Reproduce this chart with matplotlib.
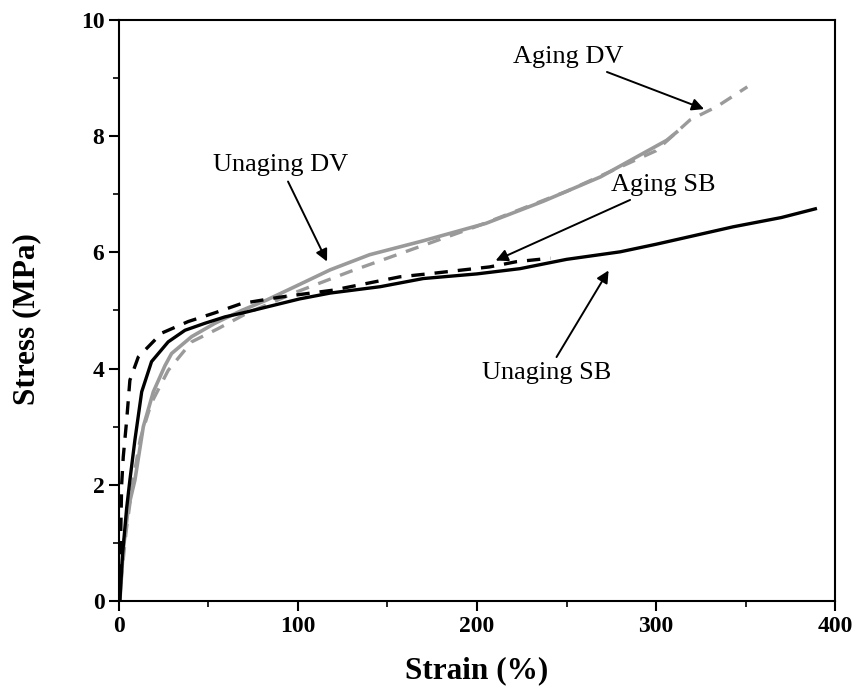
import matplotlib.pyplot as plt
from matplotlib.ticker import MultipleLocator

plt.rcParams['font.family'] = ['Liberation Serif', 'DejaVu Serif']

# Unaging SB (black solid)
usb_x = [0.5, 2, 4.3, 6.1, 8.9, 12.7, 18.2, 27.5, 36.9, 48, 59.2, 69.4, 82.5, 101, 118,
         146, 170, 200, 224, 250, 280, 300, 343, 370, 389]
usb_y = [0.0, 0.8, 1.6, 2.08, 2.77, 3.6, 4.12, 4.46, 4.66, 4.78, 4.89, 4.96, 5.06, 5.2, 5.3,
         5.41, 5.55, 5.63, 5.72, 5.88, 6.01, 6.14, 6.44, 6.6, 6.75]

# Aging SB (black dashed)
asb_x = [0.3, 1.5, 2.4, 4.3, 6.1, 10.8, 23.8, 38.7, 53.6, 68.5, 90, 119.6, 157, 175.4,
         207, 222, 241]
asb_y = [0.0, 2.0, 2.48, 3.11, 3.8, 4.2, 4.61, 4.81, 4.96, 5.12, 5.23, 5.35, 5.58, 5.64,
         5.75, 5.84, 5.9]

# Unaging DV (gray solid)
udv_x = [0.5, 2.4, 5.2, 8.9, 13.6, 19.2, 25.7, 29.4, 40.6, 53.6, 68.5, 82.5, 101, 118,
         140, 170, 205, 237, 269, 306, 311.5]
udv_y = [0.0, 0.88, 1.6, 2.08, 3.0, 3.6, 4.05, 4.26, 4.55, 4.78, 5.0, 5.18, 5.45, 5.7,
         5.96, 6.2, 6.5, 6.88, 7.3, 7.93, 8.07]

# Aging DV (gray dashed)
adv_x = [1, 4, 8, 12, 18, 27.5, 40.6, 55.5, 71.3, 99.3, 129, 162.6, 200, 250, 300, 319,
         334, 351]
adv_y = [0.3, 1.2, 2.1, 2.8, 3.4, 3.97, 4.46, 4.69, 4.95, 5.32, 5.67, 6.04, 6.45, 7.05,
         7.75, 8.28, 8.51, 8.85]

fig = plt.figure(figsize=(8.54, 6.88), dpi=100)
ax = fig.add_axes([0.1393, 0.1265, 0.8385, 0.8444])

gray = '#9a9a9a'
ax.plot(udv_x, udv_y, color=gray, lw=2.6)
ax.plot(adv_x, adv_y, color=gray, lw=2.4, ls=(0, (4, 3)))
ax.plot(usb_x, usb_y, color='black', lw=2.4)
ax.plot(asb_x, asb_y, color='black', lw=2.4, ls=(0, (4, 3)))

arrow = dict(arrowstyle='-|>', color='black', lw=1.4, mutation_scale=18)
tfs = 19
ax.annotate('Unaging DV', xy=(116.9, 5.8), xytext=(90, 7.5), fontsize=tfs,
            ha='center', va='center', arrowprops=arrow)
ax.annotate('Aging DV', xy=(328.3, 8.45), xytext=(251, 9.36), fontsize=tfs,
            ha='center', va='center', arrowprops=arrow)
ax.annotate('Aging SB', xy=(209, 5.84), xytext=(304, 7.16), fontsize=tfs,
            ha='center', va='center', arrowprops=arrow)
ax.annotate('Unaging SB', xy=(274.3, 5.73), xytext=(239, 3.92), fontsize=tfs,
            ha='center', va='center', arrowprops=arrow)

ax.set_xlim(0, 400)
ax.set_ylim(0, 10)
ax.xaxis.set_major_locator(MultipleLocator(100))
ax.xaxis.set_minor_locator(MultipleLocator(50))
ax.yaxis.set_major_locator(MultipleLocator(2))
ax.yaxis.set_minor_locator(MultipleLocator(1))
ax.tick_params(which='major', direction='out', length=7, width=1.5, labelsize=17)
ax.tick_params(which='minor', direction='out', length=4, width=1.2)
for lab in ax.get_xticklabels() + ax.get_yticklabels():
    lab.set_fontweight('bold')
for sp in ax.spines.values():
    sp.set_linewidth(1.5)

ax.set_xlabel('Strain (%)', fontsize=22.5, fontweight='bold', labelpad=14)
ax.set_ylabel('Stress (MPa)', fontsize=22.5, fontweight='bold')
ax.yaxis.set_label_coords(-0.108, 0.486)

fig.savefig('out.png', dpi=100)
